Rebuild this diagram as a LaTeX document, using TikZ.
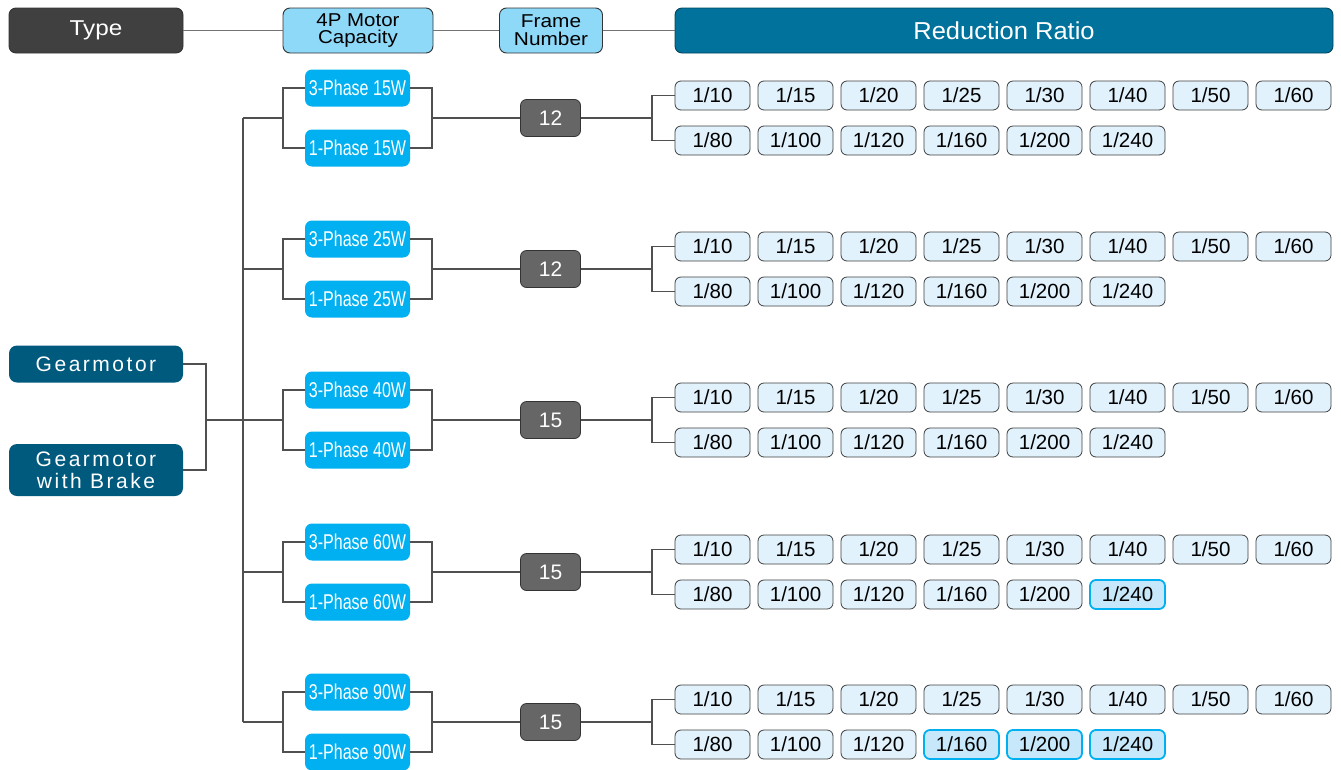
\documentclass[tikz,border=0pt]{standalone}
\usepackage{fontspec}
\setmainfont{Liberation Sans}
\newfontfamily\spacedfont[LetterSpace=12]{Liberation Sans}
\definecolor{typegray}{HTML}{404040}
\definecolor{hdrblue}{HTML}{8ED8F8}
\definecolor{rrblue}{HTML}{00729C}
\definecolor{gmblue}{HTML}{005A7E}
\definecolor{phblue}{HTML}{00B0F0}
\definecolor{frgray}{HTML}{666666}
\definecolor{rfill}{HTML}{E1F2FC}
\definecolor{rhfill}{HTML}{C6E8FA}
\definecolor{linegray}{HTML}{505050}
\begin{document}
\begin{tikzpicture}[x=1pt,y=-1pt,
  every node/.style={inner sep=0pt, align=center},
  hdr/.style={rounded corners=7pt, draw=black!80, line width=0.9pt, minimum height=45pt},
  typebox/.style={hdr, fill=typegray, text=white, font=\fontsize{21.5}{22}\selectfont, minimum width=174pt},
  capbox/.style={hdr, fill=hdrblue, text=black, font=\fontsize{18.6}{17.7}\selectfont},
  rrbox/.style={hdr, fill=rrblue, draw=rrblue!60!black, text=white, font=\fontsize{24.5}{25}\selectfont, minimum width=658pt},
  gmbox/.style={rounded corners=8pt, fill=gmblue, text=white, minimum width=174pt, font=\fontsize{21}{22}\spacedfont},
  phbox/.style={rounded corners=7pt, fill=phblue, text=white, minimum width=105pt, minimum height=37pt, font=\fontsize{21.4}{22}\selectfont},
  frbox/.style={rounded corners=6pt, fill=frgray, draw=black!80, line width=0.8pt, text=white, minimum width=60pt, minimum height=37pt, font=\fontsize{21}{22}\selectfont},
  ratio/.style={rounded corners=6pt, fill=rfill, draw=black!75, line width=0.8pt, minimum width=75pt, minimum height=29pt, font=\fontsize{20.5}{21}\selectfont},
  ratiohl/.style={ratio, fill=rhfill, draw=phblue, line width=1.8pt},
  conn/.style={draw=linegray, line width=1.2pt},
  hconn/.style={draw=black!55, line width=1.2pt}]
\useasboundingbox (0,0) rectangle (1341,769);
\fill[white] (0,0) rectangle (1341,769);
% header
\node[typebox] (type) at (96,30.5) {\scalebox{1.13}[1]{Type}};
\node[capbox, minimum width=150pt] (cap) at (358,30.5) {\scalebox{1.1}[1]{4P Motor}\\\scalebox{1.1}[1]{Capacity}};
\node[capbox, minimum width=103pt] (frm) at (551,30.5) {\scalebox{1.12}[1]{Frame}\\\scalebox{1.12}[1]{Number}};
\node[rrbox] (rr) at (1004,30.5) {\scalebox{1.04}[1]{Reduction Ratio}};
\draw[hconn] (type.east) -- (cap.west);
\draw[hconn] (cap.east) -- (frm.west);
\draw[hconn] (frm.east) -- (rr.west);
% types
\node[gmbox, minimum height=37pt] (gm) at (96,364) {Gearmotor};
\node[gmbox, minimum height=52pt] (gmb) at (96,470) {Gearmotor\\with Brake};
\coordinate (j0) at (206,420);
\coordinate (s0) at (243,420);
\draw[conn] (gm.east) -| (j0) |- (gmb.east);
\draw[conn] (j0) -- (s0);
\coordinate (stop) at (243,118);
\coordinate (sbot) at (243,722);
\draw[conn] (stop) -- (sbot);
% groups
\foreach \g/\y/\w/\f in {1/118/15/12, 2/269/25/12, 3/420/40/15, 4/572/60/15, 5/722/90/15}{
  \coordinate (s\g) at (243,\y);
  \coordinate (a\g) at (283,\y);
  \coordinate (b\g) at (432,\y);
  \coordinate (c\g) at (652,\y);
  \node[phbox] (pt\g) at (357.5,\y-30) {\scalebox{0.75}[1]{3-Phase \w W}};
  \node[phbox] (po\g) at (357.5,\y+30) {\scalebox{0.75}[1]{1-Phase \w W}};
  \node[frbox] (f\g) at (550.5,\y) {\f};
  \draw[conn] (s\g) -- (a\g);
  \draw[conn] (pt\g.west) -| (a\g) |- (po\g.west);
  \draw[conn] (pt\g.east) -| (b\g) |- (po\g.east);
  \draw[conn] (b\g) -- (f\g.west);
  \draw[conn] (f\g.east) -- (c\g);
  \foreach \i/\v in {1/10,2/15,3/20,4/25,5/30,6/40,7/50,8/60}{
    \node[ratio] (r\g a\i) at (712.5+83*\i-83,\y-22.5) {1/\v};
  }
  \foreach \i/\v in {1/80,2/100,3/120,4/160,5/200,6/240}{
    \def\rs{ratio}
    \ifnum\g=4 \ifnum\i=6 \def\rs{ratiohl}\fi\fi
    \ifnum\g=5 \ifnum\i>3 \def\rs{ratiohl}\fi\fi
    \node[\rs] (r\g b\i) at (712.5+83*\i-83,\y+22.5) {1/\v};
  }
  \draw[conn] (r\g a1.west) -| (c\g) |- (r\g b1.west);
}
\end{tikzpicture}
\end{document}
